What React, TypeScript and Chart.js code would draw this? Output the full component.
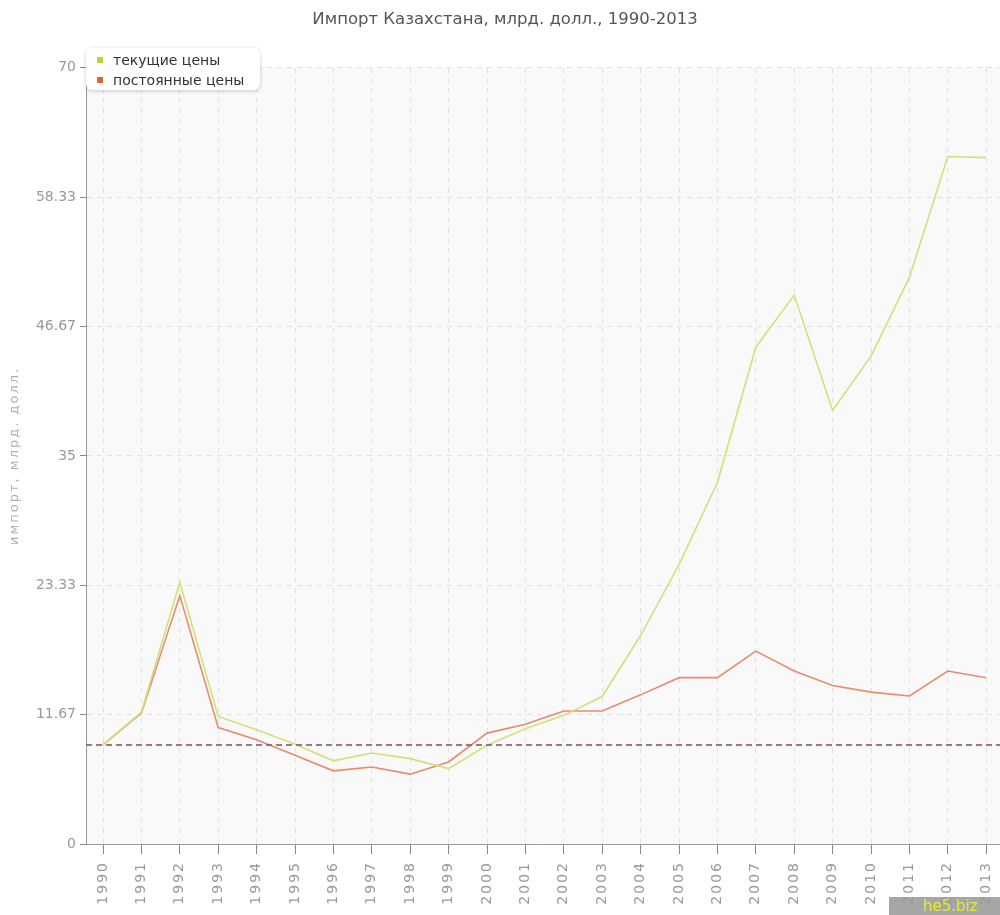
import React, { useEffect, useRef } from "react";
import { Chart, registerables } from "chart.js";

Chart.register(...registerables);

const TITLE = "Импорт Казахстана, млрд. долл., 1990-2013";
const Y_TITLE = "импорт, млрд. долл.";
const YEARS = [1990, 1991, 1992, 1993, 1994, 1995, 1996, 1997, 1998, 1999, 2000, 2001, 2002, 2003, 2004, 2005, 2006, 2007, 2008, 2009, 2010, 2011, 2012, 2013];
const SERIES_NAMES = ["текущие цены", "постоянные цены"];
const CURRENT = [8.93, 11.9, 23.6, 11.5, 10.3, 9.0, 7.5, 8.2, 7.7, 6.8, 8.9, 10.4, 11.6, 13.3, 18.8, 25.2, 32.6, 44.8, 49.5, 39.1, 44.0, 51.1, 62.0, 61.9];
const CONSTANT = [8.93, 11.8, 22.4, 10.5, 9.4, 8.0, 6.6, 6.95, 6.3, 7.4, 10.0, 10.8, 12.0, 12.0, 13.45, 15.0, 15.0, 17.4, 15.6, 14.3, 13.7, 13.35, 15.6, 15.0];
const BASELINE = CURRENT[0];
const Y_MIN = 0;
const Y_MAX = 70;
const LINE_COLORS = ["#d3e07a", "#e88a6c"];
const LEGEND_COLORS = ["#bcd43c", "#de6430"];

const FONT = "'DejaVu Sans', sans-serif";

export default function App() {
  const ref = useRef<HTMLCanvasElement | null>(null);

  useEffect(() => {
    if (!ref.current) return;
    const bgPlugin = {
      id: "bgPlugin",
      beforeDraw(chart: any) {
        const { ctx, chartArea } = chart;
        ctx.save();
        ctx.fillStyle = "#f9f9f9";
        ctx.fillRect(chartArea.left, chartArea.top, chartArea.right - chartArea.left, chartArea.bottom - chartArea.top);
        ctx.restore();
      },
      afterDraw(chart: any) {
        const { ctx, chartArea } = chart;
        ctx.save();
        ctx.translate(15, (chartArea.top + chartArea.bottom) / 2);
        ctx.rotate(-Math.PI / 2);
        ctx.font = `13px ${FONT}`;
        (ctx as any).letterSpacing = "2px";
        ctx.fillStyle = "#b0b0b0";
        ctx.textAlign = "center";
        ctx.textBaseline = "middle";
        ctx.fillText(Y_TITLE, 0, 0);
        ctx.restore();
      },
      afterDatasetsDraw(chart: any) {
        const { ctx, chartArea, scales } = chart;
        const y = Math.round(scales.y.getPixelForValue(BASELINE));
        ctx.save();
        ctx.strokeStyle = "rgba(140,95,115,0.85)";
        ctx.lineWidth = 2;
        ctx.setLineDash([6, 4]);
        ctx.beginPath();
        ctx.moveTo(chartArea.left, y);
        ctx.lineTo(chartArea.right, y);
        ctx.stroke();
        ctx.restore();
      },
    };

    const chart = new Chart(ref.current, {
      type: "line",
      data: {
        datasets: [
          {
            label: SERIES_NAMES[0],
            data: YEARS.map((yr, i) => ({ x: yr, y: CURRENT[i] })),
            borderColor: LINE_COLORS[0],
            backgroundColor: LEGEND_COLORS[0],
            borderWidth: 1.6,
            pointRadius: 0,
            tension: 0,
          },
          {
            label: SERIES_NAMES[1],
            data: YEARS.map((yr, i) => ({ x: yr, y: CONSTANT[i] })),
            borderColor: LINE_COLORS[1],
            backgroundColor: LEGEND_COLORS[1],
            borderWidth: 1.6,
            pointRadius: 0,
            tension: 0,
          },
        ],
      },
      options: {
        animation: false,
        responsive: false,
        maintainAspectRatio: false,
        layout: { autoPadding: false, padding: { left: 0, right: 0, top: 0, bottom: 0 } },
        plugins: {
          legend: { display: false },
          tooltip: { enabled: false },
          title: {
            display: true,
            text: TITLE,
            color: "#555",
            font: { family: FONT, size: 16.5, weight: "normal" },
            padding: { top: 10, bottom: 38 },
          },
        },
        scales: {
          x: {
            type: "linear",
            min: YEARS[0] - 17 / 38.39,
            max: YEARS[YEARS.length - 1] + 14 / 38.39,
            afterFit(scale: any) {
              scale.height = 71;
            },
            afterUpdate(scale: any) {
              if (!scale.__spaced) {
                const orig = scale.drawLabels;
                scale.drawLabels = function (area: any) {
                  const c = this.ctx;
                  const prev = c.letterSpacing;
                  c.letterSpacing = "2px";
                  orig.call(this, area);
                  c.letterSpacing = prev || "0px";
                };
                scale.__spaced = true;
              }
            },
            ticks: {
              stepSize: 1,
              includeBounds: false,
              autoSkip: false,
              minRotation: 90,
              maxRotation: 90,
              padding: 7,
              color: "#999",
              font: { family: FONT, size: 14 },
              callback: (v: any) => String(v),
            },
            grid: {
              color: "#e0e0e0",
              tickColor: "#888",
              tickLength: 10,
              tickBorderDash: [],
            },
            border: { color: "#999", width: 1, dash: [5, 5] },
          },
          y: {
            min: Y_MIN,
            max: Y_MAX,
            afterFit(scale: any) {
              scale.width = 86;
            },
            ticks: {
              count: 7,
              padding: 4,
              color: "#999",
              font: { family: FONT, size: 14 },
              callback: (v: any) => String(Math.round(Number(v) * 100) / 100),
            },
            grid: {
              color: "#e0e0e0",
              tickColor: "#888",
              tickLength: 6,
              tickBorderDash: [],
            },
            border: { color: "#999", width: 1, dash: [5, 5] },
          },
        },
      },
      plugins: [bgPlugin],
    } as any);
    return () => chart.destroy();
  }, []);

  return (
    <div style={{ position: "absolute", left: 0, top: 0, width: 1000, height: 915, overflow: "hidden", fontFamily: FONT }}>
      <canvas ref={ref} width={1010} height={915} style={{ display: "block", width: 1010, height: 915 }} />
      <div
        style={{
          position: "absolute",
          left: 86,
          top: 48,
          width: 174,
          height: 42,
          background: "#fff",
          borderRadius: 6,
          boxShadow: "0 1px 4px rgba(0,0,0,0.2)",
          fontSize: 14,
          color: "#333",
        }}
      >
        {SERIES_NAMES.map((name, i) => (
          <div key={name} style={{ position: "absolute", left: 11, top: 3 + i * 20, height: 18, lineHeight: "18px", whiteSpace: "nowrap" }}>
            <span style={{ display: "inline-block", width: 6, height: 6, background: LEGEND_COLORS[i], marginRight: 10, verticalAlign: "middle", position: "relative", top: -1 }} />
            {name}
          </div>
        ))}
      </div>
      <div
        style={{
          position: "absolute",
          left: 889,
          top: 897,
          width: 111,
          height: 18,
          background: "rgba(150,150,150,0.85)",
          color: "#e6ec2a",
          fontSize: 15,
          lineHeight: "18px",
          paddingLeft: 34,
          boxSizing: "border-box",
        }}
      >
        he5.biz
      </div>
    </div>
  );
}
